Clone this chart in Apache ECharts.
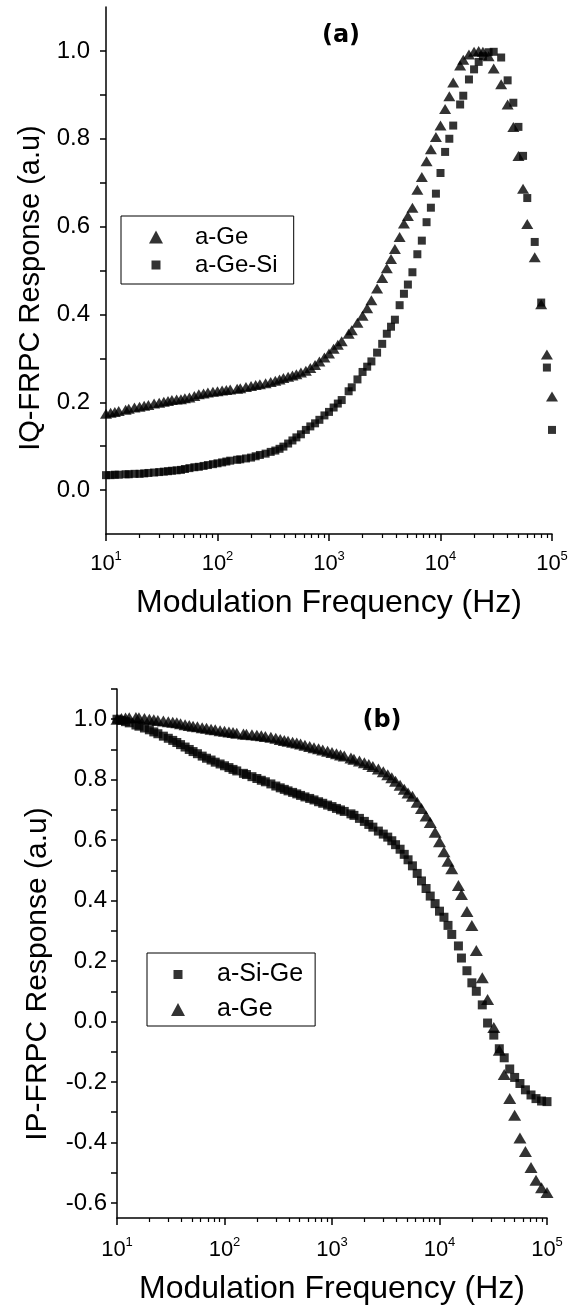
<!DOCTYPE html>
<html>
<head>
<meta charset="utf-8">
<script src="https://cdn.jsdelivr.net/npm/echarts@6/dist/echarts.min.js"></script>
<style>
html, body { margin: 0; padding: 0; background: #fff; }
#main { width: 579px; height: 1311px; }
</style>
</head>
<body>
<div id="main"></div>
<script>
// frequencies (Hz), panel (a)
var freqA = [10, 11, 12, 13, 15, 16, 18, 20, 22, 24, 27, 30, 33, 36, 39, 43, 47, 51, 56, 62, 68, 75, 82, 91,
  100, 110, 120, 130, 150, 160, 180, 200, 220, 240, 270, 300, 330, 360, 390, 430, 470, 510, 560, 620, 680, 750, 820, 910,
  1000, 1100, 1200, 1300, 1500, 1600, 1800, 2000, 2200, 2400, 2700, 3000, 3300, 3600, 3900, 4300, 4700, 5100, 5600, 6200, 6800, 7500, 8200, 9100,
  10000, 11000, 12000, 13000, 15000, 16000, 18000, 20000, 22000, 24000, 27000,
  30000, 35000, 40000, 45000, 50000, 55000, 60000, 70000, 80000, 90000, 100000];
var respA_Ge = [0.174, 0.176, 0.178, 0.180, 0.183, 0.185, 0.188, 0.190, 0.192, 0.194, 0.197, 0.199, 0.201, 0.203, 0.205, 0.206, 0.207, 0.209, 0.211, 0.214, 0.218, 0.220, 0.222, 0.224,
  0.225, 0.227, 0.228, 0.229, 0.231, 0.232, 0.235, 0.237, 0.239, 0.241, 0.243, 0.246, 0.249, 0.252, 0.255, 0.258, 0.261, 0.264, 0.268, 0.272, 0.278, 0.285, 0.293, 0.302,
  0.311, 0.322, 0.331, 0.339, 0.356, 0.364, 0.381, 0.397, 0.414, 0.432, 0.459, 0.483, 0.505, 0.526, 0.549, 0.576, 0.607, 0.624, 0.643, 0.684, 0.713, 0.749, 0.776, 0.804,
  0.830, 0.868, 0.897, 0.928, 0.967, 0.980, 0.992, 0.998, 1.0, 0.998, 0.988,
  0.960, 0.924, 0.878, 0.827, 0.761, 0.686, 0.606, 0.530, 0.423, 0.309, 0.213];
var respA_GeSi = [0.034, 0.034, 0.035, 0.035, 0.036, 0.036, 0.037, 0.037, 0.038, 0.039, 0.040, 0.041, 0.042, 0.043, 0.044, 0.045, 0.046, 0.048, 0.050, 0.052, 0.053, 0.055, 0.057, 0.059,
  0.061, 0.063, 0.065, 0.067, 0.069, 0.070, 0.072, 0.074, 0.077, 0.080, 0.083, 0.087, 0.090, 0.094, 0.099, 0.106, 0.113, 0.120, 0.127, 0.137, 0.145, 0.152, 0.160, 0.170,
  0.178, 0.188, 0.197, 0.205, 0.225, 0.234, 0.252, 0.269, 0.281, 0.293, 0.313, 0.333, 0.356, 0.372, 0.388, 0.421, 0.447, 0.468, 0.496, 0.537, 0.568, 0.610, 0.643, 0.675,
  0.722, 0.770, 0.800, 0.830, 0.878, 0.898, 0.935, 0.958, 0.975, 0.988, 0.997,
  0.998, 0.985, 0.933, 0.882, 0.827, 0.761, 0.665, 0.565, 0.427, 0.279, 0.137];

// frequencies (Hz), panel (b)
var freqB = [10, 11, 12, 13, 15, 16, 18, 20, 22, 24, 27, 30, 33, 36, 39, 43, 47, 51, 56, 62, 68, 75, 82, 91,
  100, 110, 120, 130, 150, 160, 180, 200, 220, 240, 270, 300, 330, 360, 390, 430, 470, 510, 560, 620, 680, 750, 820, 910,
  1000, 1100, 1200, 1300, 1500, 1600, 1800, 2000, 2200, 2400, 2700, 3000, 3300, 3600, 3900, 4300, 4700, 5100, 5600, 6200, 6800, 7500, 8200, 9100,
  10000, 11000, 12000, 13000, 15000, 16000, 18000, 20000,
  22000, 25000, 28000, 32000, 36000, 40000, 45000, 50000, 56000, 63000, 71000, 79000, 89000, 100000];
var respB_SiGe = [1.0, 0.996, 0.992, 0.988, 0.981, 0.977, 0.971, 0.965, 0.958, 0.952, 0.944, 0.937, 0.930, 0.923, 0.916, 0.908, 0.900, 0.893, 0.886, 0.878, 0.871, 0.865, 0.858, 0.852,
  0.846, 0.840, 0.834, 0.829, 0.821, 0.817, 0.810, 0.804, 0.798, 0.793, 0.786, 0.779, 0.773, 0.768, 0.763, 0.758, 0.753, 0.748, 0.743, 0.738, 0.733, 0.727, 0.722, 0.716,
  0.711, 0.705, 0.700, 0.695, 0.687, 0.682, 0.672, 0.662, 0.652, 0.643, 0.630, 0.620, 0.610, 0.598, 0.585, 0.570, 0.553, 0.535, 0.515, 0.490, 0.465, 0.440, 0.415, 0.390,
  0.365, 0.345, 0.318, 0.288, 0.250, 0.210, 0.168, 0.128,
  0.100, 0.055, -0.005, -0.045, -0.090, -0.120, -0.157, -0.185, -0.205, -0.226, -0.243, -0.255, -0.263, -0.265];
var respB_Ge = [1.0, 1.002, 1.004, 1.005, 1.006, 1.005, 1.002, 1.0, 0.998, 0.996, 0.994, 0.992, 0.990, 0.988, 0.985, 0.982, 0.979, 0.977, 0.975, 0.972, 0.970, 0.967, 0.965, 0.962,
  0.960, 0.958, 0.956, 0.954, 0.951, 0.950, 0.949, 0.947, 0.945, 0.943, 0.940, 0.937, 0.933, 0.930, 0.927, 0.924, 0.921, 0.918, 0.914, 0.910, 0.906, 0.902, 0.898, 0.894,
  0.890, 0.886, 0.882, 0.878, 0.872, 0.868, 0.862, 0.856, 0.850, 0.844, 0.835, 0.826, 0.816, 0.806, 0.795, 0.782, 0.768, 0.756, 0.745, 0.725, 0.705, 0.680, 0.658, 0.626,
  0.595, 0.562, 0.530, 0.505, 0.450, 0.420, 0.364, 0.318,
  0.235, 0.145, 0.073, -0.020, -0.095, -0.175, -0.255, -0.310, -0.385, -0.430, -0.483, -0.525, -0.550, -0.566];

// ticks
var xTickVals = [10, 100, 1000, 10000, 100000];
var xTickExp = ['1', '2', '3', '4', '5'];
var yTicksA = [0, 0.2, 0.4, 0.6, 0.8, 1.0];
var yTicksB = [-0.6, -0.4, -0.2, 0, 0.2, 0.4, 0.6, 0.8, 1.0];
var yMinorB = [-0.5, -0.3, -0.1, 0.1, 0.3, 0.5, 0.7, 0.9, 1.1];

var squareIcon = 'path://M0,0M14,13M2.5,2L11.5,2L11.5,11L2.5,11Z';

function pairs(xs, ys) {
  return xs.map(function (x, i) { return [x, ys[i]]; });
}

function xLabel(v) {
  var i = xTickVals.findIndex(function (t) { return Math.abs(t - v) / t < 1e-6; });
  if (i < 0) return '';
  return '{b|10}{s|' + xTickExp[i] + '}';
}

function mainX(grid, margin, gap) {
  return {
    type: 'log', gridIndex: grid, min: 10, max: 100000,
    axisLine: { onZero: false, lineStyle: { color: '#000', width: 1.5 } },
    axisTick: { length: 7, lineStyle: { color: '#000', width: 1.5 } },
    minorTick: { show: true, splitNumber: 9, length: 4, lineStyle: { color: '#000', width: 1.2 } },
    axisLabel: {
      formatter: xLabel, margin: margin,
      rich: {
        b: { fontSize: 22, lineHeight: 28, color: '#000' },
        s: { fontSize: 13, lineHeight: 10, verticalAlign: 'top', color: '#000' }
      }
    },
    splitLine: { show: false },
    minorSplitLine: { show: false },
    name: 'Modulation Frequency (Hz)', nameLocation: 'middle', nameGap: gap,
    nameTextStyle: { fontSize: 32, color: '#000' }
  };
}

function scatter(name, data, xi, yi, symbol, size) {
  return {
    name: name, type: 'scatter', xAxisIndex: xi, yAxisIndex: yi,
    symbol: symbol, symbolSize: size, data: data, clip: false,
    itemStyle: { color: '#000' }
  };
}

var myChart = echarts.init(document.getElementById('main'));
myChart.setOption({
  animation: false,
  backgroundColor: '#fff',
  textStyle: { fontFamily: 'Arial' },
  title: [
    { text: '(a)', left: 341, top: 24, textAlign: 'center', padding: 0,
      textStyle: { fontFamily: 'DejaVu Sans', fontWeight: 'bold', fontSize: 24, color: '#000' } },
    { text: '(b)', left: 382, top: 709, textAlign: 'center', padding: 0,
      textStyle: { fontFamily: 'DejaVu Sans', fontWeight: 'bold', fontSize: 24, color: '#000' } }
  ],
  legend: [
    {
      orient: 'vertical', left: 121, top: 216, padding: [9, 16, 7, 28], itemGap: 4,
      itemWidth: 14, itemHeight: 13, borderColor: '#000', borderWidth: 1, selectedMode: false,
      textStyle: { fontSize: 24, lineHeight: 24, color: '#000', padding: [0, 0, 0, 27] },
      data: [{ name: 'a-Ge', icon: 'triangle' }, { name: 'a-Ge-Si', icon: squareIcon }]
    },
    {
      orient: 'vertical', left: 147, top: 953, padding: [9, 12, 4, 24], itemGap: 10,
      itemWidth: 14, itemHeight: 13, borderColor: '#000', borderWidth: 1, selectedMode: false,
      textStyle: { fontSize: 25, lineHeight: 24, color: '#000', padding: [0, 0, 0, 27] },
      data: [{ name: 'a-Si-Ge', icon: squareIcon }, { name: 'a-Ge', icon: 'triangle' }]
    }
  ],
  grid: [
    { left: 106, right: 27, top: 7, height: 527 },
    { left: 117, right: 32, top: 689, height: 529 }
  ],
  xAxis: [
    mainX(0, 16, 53),
    mainX(1, 18, 55)
  ],
  yAxis: [
    {
      type: 'value', gridIndex: 0, min: -0.1, max: 1.1, interval: 0.1,
      axisLine: { show: true, lineStyle: { color: '#000', width: 1.5 } },
      axisTick: { show: true, length: 6, lineStyle: { color: '#000', width: 1.5 } },
      axisLabel: {
        show: true, margin: 16, fontSize: 24, color: '#000',
        showMinLabel: false, showMaxLabel: false,
        formatter: function (v) {
          var hit = yTicksA.some(function (t) { return Math.abs(t - v) < 1e-6; });
          return hit ? v.toFixed(1) : '';
        }
      },
      splitLine: { show: false },
      name: 'IQ-FRPC Response (a.u)', nameLocation: 'middle', nameRotate: 90, nameGap: 58,
      nameTextStyle: { fontSize: 29, color: '#000', padding: [0, 35, 0, 0] }
    },
    {
      type: 'value', gridIndex: 1, min: -0.65, max: 1.1,
      axisLine: { show: true, lineStyle: { color: '#000', width: 1.5 } },
      axisTick: { show: true, customValues: yTicksB.concat(yMinorB), length: 6, lineStyle: { color: '#000', width: 1.5 } },
      axisLabel: {
        show: true, customValues: yTicksB, margin: 10, fontSize: 24, color: '#000',
        formatter: function (v) { return v.toFixed(1); }
      },
      splitLine: { show: false },
      name: 'IP-FRPC Response (a.u)', nameLocation: 'middle', nameRotate: 90, nameGap: 64,
      nameTextStyle: { fontSize: 30, color: '#000', padding: [0, 41, 0, 0] }
    }
  ],
  series: [
    scatter('a-Ge', pairs(freqA, respA_Ge), 0, 0, 'triangle', [12, 10]),
    scatter('a-Ge-Si', pairs(freqA, respA_GeSi), 0, 0, 'rect', 8),
    scatter('a-Si-Ge', pairs(freqB, respB_SiGe), 1, 1, 'rect', 9),
    scatter('a-Ge', pairs(freqB, respB_Ge), 1, 1, 'triangle', [13, 11])
  ]
});
</script>
</body>
</html>
